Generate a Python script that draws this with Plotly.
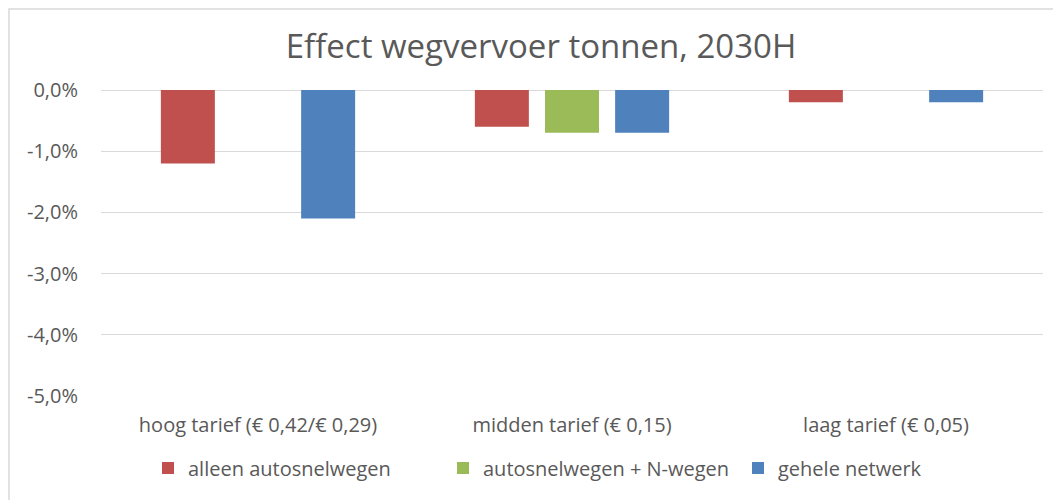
import plotly.graph_objects as go

categories = ["hoog tarief (€ 0,42/€ 0,29)", "midden tarief (€ 0,15)", "laag tarief (€ 0,05)"]
series_names = ["alleen autosnelwegen", "autosnelwegen + N-wegen", "gehele netwerk"]
alleen_autosnelwegen = [-1.2, -0.6, -0.2]
autosnelwegen_n_wegen = [None, -0.7, None]
gehele_netwerk = [-2.1, -0.7, -0.2]
tick_values = [0, -1, -2, -3, -4, -5]
tick_labels = ["0,0%", "-1,0%", "-2,0%", "-3,0%", "-4,0%", "-5,0%"]
title_text = "Effect wegvervoer tonnen, 2030H"

colors = ["#C0504D", "#9BBB59", "#4F81BD"]
FONT = "Open Sans"
TXT = "#595959"

# page body has an 8px margin; plot area should sit at screen x 101..1043, y 90..396
OFF = 8
W, H = 1061, 500
L = 101 - OFF
T = 90 - OFF
R = W + OFF - 1043
B = H + OFF - 396
PW = W - L - R
PH = H - T - B

fig = go.Figure()
for name, vals, col in zip(series_names,
                           [alleen_autosnelwegen, autosnelwegen_n_wegen, gehele_netwerk],
                           colors):
    fig.add_trace(go.Bar(name=name, x=categories, y=vals, marker_color=col,
                         marker_line_width=0))

fig.update_layout(
    width=W, height=H,
    margin=dict(l=L, r=R, t=T, b=B),
    paper_bgcolor="white", plot_bgcolor="white",
    barmode="group", bargap=0.33, bargroupgap=0.23,
    font=dict(family=FONT, color=TXT, size=20),
    title=dict(text=title_text, x=(541 - 101) / PW, xanchor="center", xref="paper",
               y=1 - (46 - OFF) / H, yanchor="middle",
               font=dict(family=FONT, size=33, color=TXT)),
    legend=dict(orientation="h", x=(148 - 101) / PW, xanchor="left",
                y=(396 - 468) / PH, yanchor="middle",
                font=dict(family=FONT, size=20, color=TXT), itemwidth=30,
                entrywidth=250, entrywidthmode="pixels",
                traceorder="normal"),
    showlegend=True,
)
fig.update_xaxes(showline=False, showgrid=False, ticks="", tickfont=dict(size=20, color=TXT),
                 ticklabelstandoff=15)
fig.update_yaxes(range=[-5, 0], tickvals=tick_values, ticktext=tick_labels,
                 showgrid=True, gridcolor="#D9D9D9", gridwidth=1,
                 zeroline=True, zerolinecolor="#D9D9D9", zerolinewidth=1,
                 showline=False, ticks="", ticklabelstandoff=22,
                 tickfont=dict(size=20, color=TXT))

fig.add_shape(type="rect", xref="paper", yref="paper",
              x0=(9 - 101) / PW, x1=1.2, y0=-0.6, y1=1 + (90 - 9) / PH,
              line=dict(color="#D9D9D9", width=1.5), fillcolor="rgba(0,0,0,0)", layer="below")

fig.write_html("out.html")
